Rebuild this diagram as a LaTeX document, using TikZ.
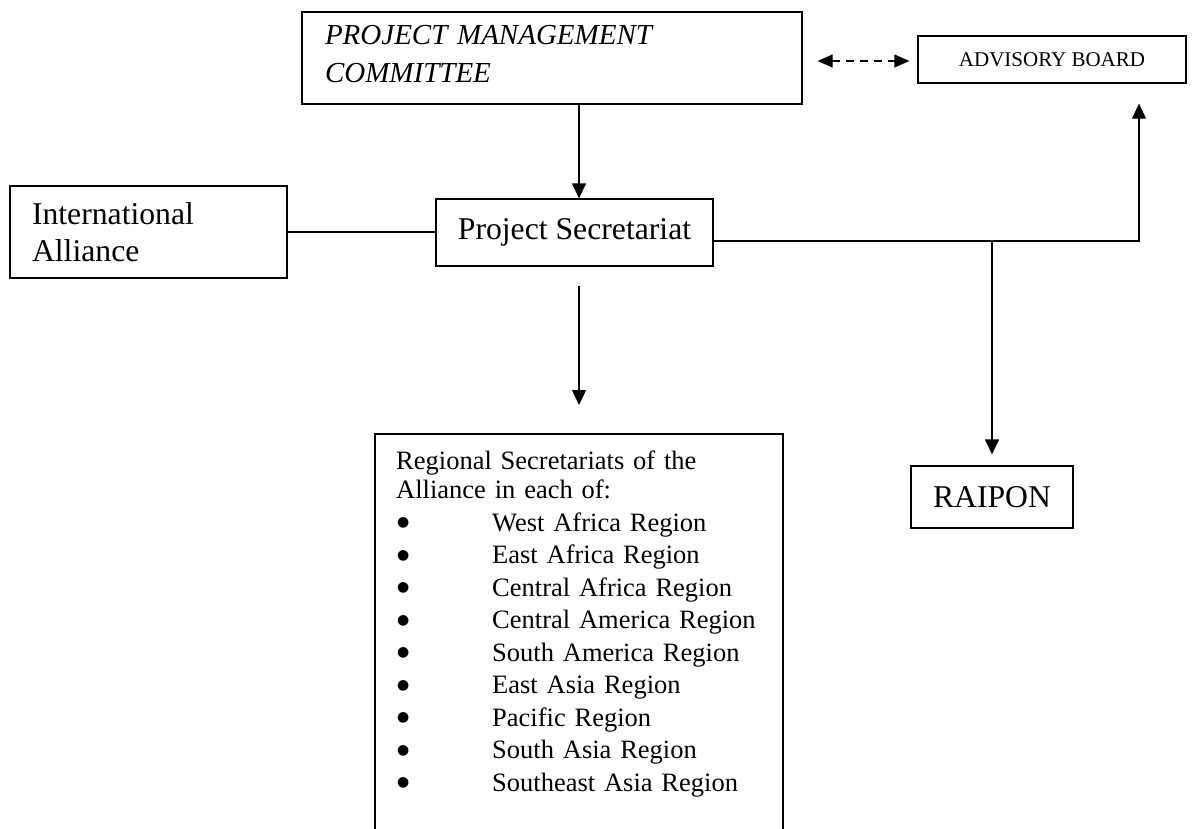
\documentclass[tikz,border=0pt]{standalone}
\usepackage{fontspec}
\setmainfont{Liberation Serif}
\newfontfamily\dejavu{DejaVu Sans}
\usetikzlibrary{arrows.meta,calc}
\newcommand{\bigbul}{\makebox[96pt][l]{\hspace{1pt}\raisebox{4.5pt}{\dejavu\fontsize{14}{14}\selectfont ●}}}
\begin{document}
\begin{tikzpicture}[x=1pt,y=-1pt,
  box/.style={draw,line width=1.3pt,rectangle,inner sep=0pt},
  conn/.style={line width=1.3pt},
  arr/.style={line width=1.3pt,-{Triangle[length=15pt,width=14pt]}},
  darr/.style={line width=1.3pt,{Triangle[length=15pt,width=13pt]}-{Triangle[length=15pt,width=13pt]},dash pattern=on 8pt off 6pt},
  big/.style={font=\fontsize{31.7}{36.5}\selectfont}]
\useasboundingbox (0,0) rectangle (1192,828);
\clip (0,0) rectangle (1192,828);
\fill[white] (0,0) rectangle (1192,828);

\node[box,minimum width=500pt,minimum height=92pt,text width=454pt,inner xsep=23pt,align=left,
  font=\fontsize{29}{38}\selectfont\itshape] (pmc) at (552,58)
  {PROJECT MANAGEMENT\\COMMITTEE\rule[-8pt]{0pt}{8pt}};
\node[box,minimum width=268pt,minimum height=47pt,font=\fontsize{21}{24}\selectfont] (adv) at (1052,59.5) {ADVISORY BOARD};
\node[box,big,minimum width=277pt,minimum height=92pt,text width=233pt,inner xsep=22pt,align=left] (ia) at (148.5,232) {International\\Alliance};
\node[box,big,minimum width=277pt,minimum height=67pt] (ps) at (574.5,232.5) {Project Secretariat};
\node[box,big,minimum width=162pt,minimum height=62pt] (raipon) at (992,497) {RAIPON};
\node[anchor=north west,inner xsep=21pt,inner ysep=17pt,text width=366pt,align=left,
  font=\fontsize{26.5}{32.5}\selectfont] (reg) at (375,434)
  {Regional Secretariats of the\\[-3.5pt]
   Alliance in each of:\\
   \bigbul West Africa Region\\
   \bigbul East Africa Region\\
   \bigbul Central Africa Region\\
   \bigbul Central America Region\\
   \bigbul South America Region\\
   \bigbul East Asia Region\\
   \bigbul Pacific Region\\
   \bigbul South Asia Region\\
   \bigbul Southeast Asia Region};
\draw[conn] ($(reg.north west)+(0,420)$) -- (reg.north west) -- ($(reg.north west)+(408,0)$) -- ++(0,420);

\coordinate (xa) at (579,0);
\coordinate (yd) at (0,61);
\coordinate (corner) at (1139,241);
\coordinate (br) at (992,241);

\draw[arr] (pmc.south -| xa) -- (ps.north -| xa);
\draw[darr] ($(pmc.east |- yd)+(15,0)$) -- ($(adv.west |- yd)+(-8,0)$);
\draw[conn] (ia.east) -- (ia.east -| ps.west);
\draw[arr] (ps.east |- corner) -- (corner) -- ($(corner |- adv.south)+(0,20)$);
\draw[arr] (br) -- ($(raipon.north)+(0,-11)$);
\draw[arr] ($(ps.south -| xa)+(0,19)$) -- ($(reg.north -| xa)+(0,-29)$);
\end{tikzpicture}
\end{document}
